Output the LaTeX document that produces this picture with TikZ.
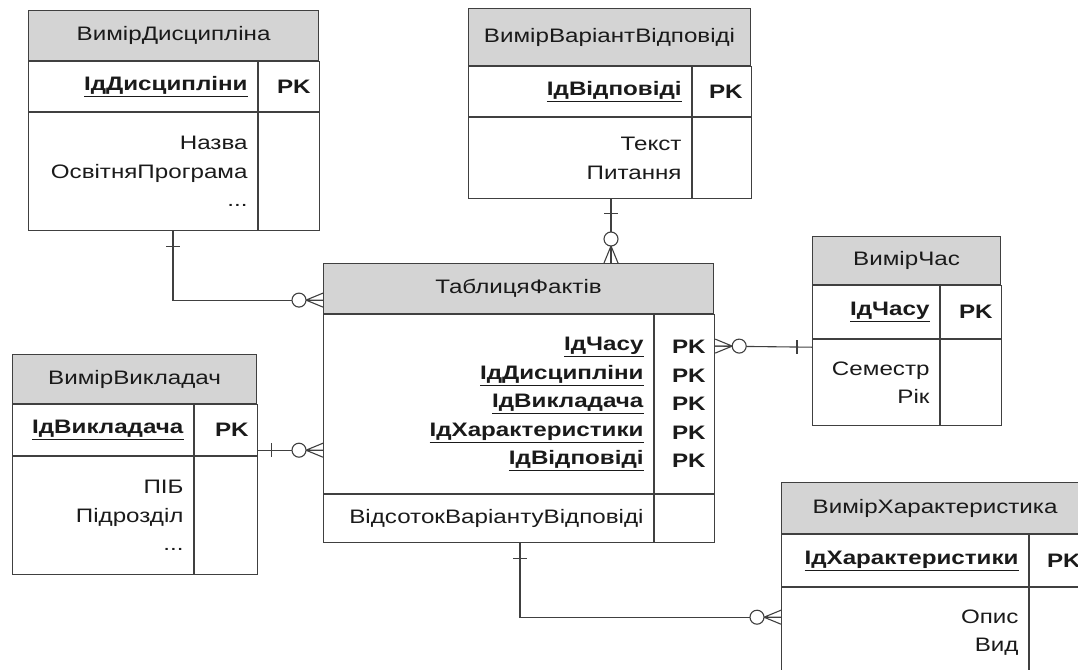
\documentclass[tikz,border=0pt]{standalone}
\usepackage{fontspec}
\setmainfont{Liberation Sans}[FakeStretch=1.24]
\usetikzlibrary{calc}
\definecolor{hdrgray}{HTML}{D4D4D4}
\definecolor{linedark}{HTML}{404040}
\definecolor{txtdark}{HTML}{1A1A1A}
\newcommand{\keyname}[1]{\underline{\textbf{#1}}}

\begin{document}
\begin{tikzpicture}[x=1pt, y=-1pt, font=\fontsize{19.5}{28.5}\selectfont, text=txtdark,
        hdr/.style={draw=linedark, line width=1.1pt, fill=hdrgray, anchor=north west, inner sep=0pt},
        cell/.style={draw=linedark, line width=1.1pt, anchor=north west, inner xsep=10pt, inner ysep=0pt, align=right},
        pkcell/.style={cell, inner xsep=9pt},
        conn/.style={draw=linedark, line width=1.1pt},
        zmany/.pic={\draw[conn] (-17,0) -- (0,-7) (-17,0) -- (0,0) (-17,0) -- (0,7);
            \draw[conn, fill=white] (-24,0) circle (7pt);},
        onebar/.pic={\draw[conn] (0,-7) -- (0,7);}]
        \useasboundingbox (0,0) rectangle (1078,669);
        \clip (0,0) rectangle (1078,669);

        \node[hdr, minimum width=290pt, minimum height=50pt] (dis_h) at (28,10) {ВимірДисципліна};
        \node[cell, text width=209pt, minimum height=50pt] (dis_k) at (dis_h.south west) {\keyname{ІдДисципліни}};
        \node[pkcell, text width=43pt, minimum height=50pt] (dis_pk) at (dis_k.north east) {\textbf{PK}};
        \node[cell, text width=209pt, minimum height=118pt] (dis_b) at (dis_k.south west) {Назва\\ОсвітняПрограма\\...};
        \node[pkcell, text width=43pt, minimum height=118pt] (dis_e) at (dis_b.north east) {};

        \node[hdr, minimum width=282pt, minimum height=57pt] (var_h) at (468,8) {ВимірВаріантВідповіді};
        \node[cell, text width=203pt, minimum height=50pt] (var_k) at (var_h.south west) {\keyname{ІдВідповіді}};
        \node[pkcell, text width=41pt, minimum height=50pt] (var_pk) at (var_k.north east) {\textbf{PK}};
        \node[cell, text width=203pt, minimum height=81pt] (var_b) at (var_k.south west) {Текст\\Питання};
        \node[pkcell, text width=41pt, minimum height=81pt] (var_e) at (var_b.north east) {};

        \node[hdr, minimum width=390pt, minimum height=50pt] (fact_h) at (323,263) {ТаблицяФактів};
        \node[cell, text width=310pt, minimum height=179pt] (fact_k) at (fact_h.south west)
            {\keyname{ІдЧасу}\\\keyname{ІдДисципліни}\\\keyname{ІдВикладача}\\\keyname{ІдХарактеристики}\\\keyname{ІдВідповіді}};
        \node[pkcell, text width=42pt, minimum height=179pt] (fact_pk) at (fact_k.north east)
            {\textbf{PK}\\\textbf{PK}\\\textbf{PK}\\\textbf{PK}\\\textbf{PK}};
        \node[cell, text width=310pt, minimum height=48pt] (fact_b) at (fact_k.south west) {ВідсотокВаріантуВідповіді};
        \node[pkcell, text width=42pt, minimum height=48pt] (fact_e) at (fact_b.north east) {};

        \node[hdr, minimum width=188pt, minimum height=48pt] (chas_h) at (812,236) {ВимірЧас};
        \node[cell, text width=107pt, minimum height=53pt] (chas_k) at (chas_h.south west) {\keyname{ІдЧасу}};
        \node[pkcell, text width=43pt, minimum height=53pt] (chas_pk) at (chas_k.north east) {\textbf{PK}};
        \node[cell, text width=107pt, minimum height=86pt] (chas_b) at (chas_k.south west) {Семестр\\Рік};
        \node[pkcell, text width=43pt, minimum height=86pt] (chas_e) at (chas_b.north east) {};

        \node[hdr, minimum width=244pt, minimum height=49pt] (vyk_h) at (12,354) {ВимірВикладач};
        \node[cell, text width=161pt, minimum height=51pt] (vyk_k) at (vyk_h.south west) {\keyname{ІдВикладача}};
        \node[pkcell, text width=45pt, minimum height=51pt] (vyk_pk) at (vyk_k.north east) {\textbf{PK}};
        \node[cell, text width=161pt, minimum height=118pt] (vyk_b) at (vyk_k.south west) {ПІБ\\Підрозділ\\...};
        \node[pkcell, text width=45pt, minimum height=118pt] (vyk_e) at (vyk_b.north east) {};

        \node[hdr, minimum width=307pt, minimum height=51pt] (khar_h) at (781,482) {ВимірХарактеристика};
        \node[cell, text width=227pt, minimum height=52pt] (khar_k) at (khar_h.south west) {\keyname{ІдХарактеристики}};
        \node[pkcell, text width=42pt, minimum height=52pt] (khar_pk) at (khar_k.north east) {\textbf{PK}};
        \node[cell, text width=227pt, minimum height=90pt] (khar_b) at (khar_k.south west) {Опис\\Вид};
        \node[pkcell, text width=42pt, minimum height=90pt] (khar_e) at (khar_b.north east) {};

        \coordinate (dis_c) at ($(dis_b.south west)+(145,0)$);
        \coordinate (fact_c1) at ($(fact_h.south west)+(0,-14)$);
        \coordinate (var_c) at ($(var_b.south west)+(143,0)$);
        \coordinate (fact_c2) at ($(fact_h.north west)+(288,0)$);
        \coordinate (fact_c3) at ($(fact_pk.north east)+(0,32)$);
        \coordinate (chas_c) at ($(chas_b.north west)+(0,8)$);
        \coordinate (vyk_c) at ($(vyk_pk.south east)+(0,-6)$);
        \coordinate (fact_c4) at ($(fact_k.south west)+(0,-44)$);
        \coordinate (fact_c5) at ($(fact_b.south west)+(197,0)$);
        \coordinate (khar_c) at ($(khar_b.north west)+(0,30)$);

        \draw[conn] (dis_c) |- (fact_c1);
        \draw[conn] (var_c) -- (fact_c2);
        \draw[conn] (fact_c3) -- (chas_c);
        \draw[conn] (vyk_c) -- (fact_c4);
        \draw[conn] (fact_c5) |- (khar_c);

        \pic at ($(dis_c)+(0,15)$) [rotate=90] {onebar};
        \pic at (fact_c1) {zmany};
        \pic at ($(var_c)+(0,14)$) [rotate=90] {onebar};
        \pic at (fact_c2) [rotate=-90] {zmany};
        \pic at (fact_c3) [rotate=180] {zmany};
        \pic at ($(chas_c)+(-15,0)$) {onebar};
        \pic at ($(vyk_c)+(13,0)$) {onebar};
        \pic at (fact_c4) {zmany};
        \pic at ($(fact_c5)+(0,15)$) [rotate=90] {onebar};
        \pic at (khar_c) {zmany};
\end{tikzpicture}
\end{document}
